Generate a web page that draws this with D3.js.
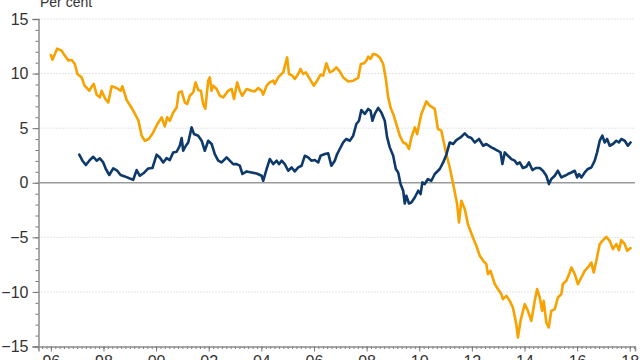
<!DOCTYPE html>
<html>
<head>
<meta charset="utf-8">
<script src="https://cdn.jsdelivr.net/npm/d3@7"></script>
<style>
  html, body { margin: 0; padding: 0; background: #fff; }
  svg { display: block; font-family: "Liberation Sans", Arial, sans-serif; }
</style>
</head>
<body>
<svg id="chart" width="640" height="360"></svg>
<script>
// ---------- DATA ----------
const yAxisLabel = "Per cent";
const yTicks = [-15, -10, -5, 0, 5, 10, 15];
const xTickYears = [1996, 1998, 2000, 2002, 2004, 2006, 2008, 2010, 2012, 2014, 2016, 2018];

const orangeYears = [1996.00,1996.06,1996.24,1996.41,1996.52,1996.66,1996.79,1996.91,1997.01,1997.17,
1997.27,1997.38,1997.46,1997.55,1997.63,1997.74,1997.86,1997.93,1998.05,1998.18,
1998.31,1998.50,1998.65,1998.72,1998.88,1999.07,1999.23,1999.33,1999.45,1999.57,
1999.72,1999.89,2000.05,2000.21,2000.33,2000.42,2000.52,2000.65,2000.78,2000.86,
2000.97,2001.09,2001.18,2001.28,2001.41,2001.50,2001.60,2001.70,2001.79,2001.87,
2001.98,2002.04,2002.11,2002.17,2002.30,2002.42,2002.55,2002.74,2002.87,2002.96,
2003.08,2003.18,2003.27,2003.44,2003.63,2003.75,2003.88,2004.01,2004.07,2004.20,
2004.32,2004.45,2004.51,2004.64,2004.74,2004.83,2004.98,2005.05,2005.18,2005.27,
2005.40,2005.49,2005.59,2005.69,2005.84,2005.99,2006.12,2006.25,2006.35,2006.47,
2006.60,2006.73,2006.85,2006.98,2007.11,2007.30,2007.49,2007.68,2007.78,2007.90,
2007.99,2008.06,2008.15,2008.25,2008.37,2008.50,2008.63,2008.73,2008.82,2008.91,
2009.01,2009.13,2009.26,2009.39,2009.51,2009.61,2009.70,2009.83,2009.92,2010.08,
2010.27,2010.40,2010.59,2010.71,2010.84,2011.03,2011.16,2011.29,2011.44,2011.51,
2011.60,2011.73,2011.85,2012.04,2012.17,2012.30,2012.43,2012.55,2012.61,2012.71,
2012.87,2012.99,2013.12,2013.18,2013.31,2013.44,2013.56,2013.69,2013.75,2013.85,
2014.01,2014.13,2014.26,2014.39,2014.48,2014.58,2014.67,2014.73,2014.83,2014.92,
2015.02,2015.15,2015.27,2015.40,2015.46,2015.59,2015.72,2015.78,2015.91,2016.03,
2016.16,2016.29,2016.41,2016.54,2016.63,2016.73,2016.86,2016.96,2017.11,2017.24,
2017.36,2017.49,2017.59,2017.68,2017.81,2017.90,2018.03];

const orangeValues = [11.70,11.27,12.28,12.10,11.67,11.21,11.25,10.88,9.96,9.65,
8.95,8.64,8.43,8.80,9.05,8.07,7.82,8.43,7.76,7.36,
8.83,8.68,8.43,8.83,7.58,6.85,6.14,5.68,4.31,3.85,
4.01,4.61,5.38,5.99,5.16,5.99,5.68,6.44,6.90,8.28,
8.37,7.36,7.21,7.97,8.28,9.19,8.50,8.43,7.21,6.78,
9.35,9.65,8.43,8.89,8.59,7.97,7.82,8.43,8.59,7.67,
9.19,8.43,7.97,8.59,8.43,8.37,8.68,8.43,8.07,8.89,
9.19,9.35,9.05,9.65,9.90,10.11,11.48,9.96,9.81,9.51,
9.96,10.42,9.96,10.11,9.51,8.89,9.35,9.90,9.81,10.94,
10.11,10.27,10.57,10.20,9.65,9.28,9.35,9.60,10.88,10.94,
11.18,11.55,11.34,11.80,11.73,11.48,10.88,9.51,7.82,6.90,
6.30,5.38,4.31,3.69,3.55,3.09,4.12,5.07,4.46,6.30,
7.45,7.06,6.76,4.92,4.77,2.63,1.40,-0.12,-1.95,-3.64,
-1.65,-2.41,-3.79,-5.01,-5.77,-6.69,-7.15,-7.45,-8.37,-8.07,
-9.28,-9.74,-10.20,-10.66,-10.36,-10.82,-11.43,-12.95,-14.18,-12.65,
-11.12,-11.73,-12.65,-10.82,-9.74,-10.51,-11.73,-10.82,-12.80,-13.26,
-11.73,-11.58,-10.51,-10.20,-9.28,-8.98,-8.22,-7.76,-8.37,-9.28,
-8.68,-8.07,-7.76,-7.31,-8.22,-7.15,-5.62,-5.32,-4.95,-5.32,
-6.08,-5.62,-6.17,-5.25,-5.62,-6.23,-5.99];

const blueYears = [1997.08,1997.20,1997.33,1997.46,1997.61,1997.74,1997.86,1997.99,1998.09,1998.22,
1998.37,1998.52,1998.65,1998.81,1999.00,1999.13,1999.26,1999.38,1999.53,1999.70,
1999.86,2000.02,2000.14,2000.27,2000.40,2000.52,2000.65,2000.78,2000.90,2000.97,
2001.03,2001.13,2001.22,2001.35,2001.44,2001.60,2001.73,2001.85,2001.98,2002.11,
2002.23,2002.36,2002.49,2002.68,2002.80,2002.93,2003.06,2003.18,2003.28,2003.44,
2003.63,2003.82,2004.01,2004.07,2004.20,2004.32,2004.45,2004.58,2004.67,2004.77,
2004.89,2005.02,2005.15,2005.27,2005.40,2005.53,2005.65,2005.78,2005.90,2006.03,
2006.16,2006.25,2006.41,2006.54,2006.66,2006.79,2006.88,2006.98,2007.11,2007.23,
2007.36,2007.49,2007.61,2007.71,2007.80,2007.93,2008.06,2008.15,2008.22,2008.31,
2008.44,2008.56,2008.69,2008.78,2008.88,2009.01,2009.11,2009.20,2009.29,2009.39,
2009.45,2009.51,2009.61,2009.70,2009.83,2009.96,2010.05,2010.12,2010.21,2010.33,
2010.46,2010.59,2010.78,2010.91,2011.03,2011.16,2011.29,2011.41,2011.57,2011.73,
2011.85,2011.98,2012.11,2012.27,2012.43,2012.55,2012.74,2012.87,2012.99,2013.09,
2013.16,2013.25,2013.37,2013.50,2013.63,2013.72,2013.82,2013.94,2014.07,2014.17,
2014.30,2014.43,2014.58,2014.70,2014.83,2014.93,2015.02,2015.15,2015.27,2015.40,
2015.53,2015.65,2015.78,2015.91,2016.00,2016.07,2016.16,2016.29,2016.41,2016.54,
2016.67,2016.76,2016.86,2016.96,2017.05,2017.14,2017.24,2017.36,2017.49,2017.59,
2017.68,2017.81,2017.93,2018.03];

const blueValues = [2.57,2.02,1.62,2.02,2.38,2.02,2.23,1.86,1.26,0.71,
1.31,1.10,0.71,0.58,0.39,0.27,1.16,0.64,0.89,1.31,
1.35,2.57,2.32,1.86,2.26,2.08,2.78,2.84,3.39,4.10,
2.93,3.39,3.69,5.07,4.46,4.31,3.85,2.93,3.85,3.55,
2.63,2.02,1.86,2.32,2.02,1.71,1.71,1.56,0.80,1.04,
0.94,0.85,0.64,0.18,1.26,2.17,1.71,2.02,1.71,2.02,
1.71,1.10,1.40,1.04,1.40,1.56,2.47,2.32,2.02,2.08,
1.86,2.47,2.63,2.69,1.56,2.02,2.63,3.09,3.69,4.01,
3.85,4.31,5.38,5.68,6.66,6.30,6.76,6.60,5.68,6.30,
6.85,6.44,5.68,4.15,3.24,2.47,1.26,0.94,-0.12,-0.73,
-1.90,-1.19,-1.90,-1.81,-1.35,-0.73,-1.04,0.03,-0.12,0.34,
0.18,0.80,1.26,1.86,2.57,3.69,3.55,3.91,4.15,4.52,
4.22,4.10,3.69,4.01,3.39,3.55,3.24,3.09,2.93,2.78,
1.71,2.78,2.47,2.17,2.02,1.71,1.86,1.35,1.47,1.86,
1.16,1.35,1.35,1.10,0.64,-0.12,0.34,0.64,1.10,0.49,
0.64,0.80,0.94,1.10,0.49,0.80,0.49,0.94,1.26,1.40,
2.02,2.78,3.85,4.31,3.69,4.01,3.39,3.55,3.85,3.69,
4.01,3.85,3.39,3.69];

// ---------- LAYOUT ----------
const svg = d3.select("#chart");
const plotLeft = 38.5, plotRight = 635, plotTop = 19, plotBottom = 346.5;

const x = d3.scaleLinear().domain([1995.53, 2018.2]).range([plotLeft, plotRight]);
const y = d3.scaleLinear().domain([-15, 15]).range([plotBottom, plotTop]);

const zip = (xs, vs) => xs.slice(0, Math.min(xs.length, vs.length)).map((d, i) => ({ t: d, v: vs[i] }));
const orange = zip(orangeYears, orangeValues);
const blue = zip(blueYears, blueValues);

// gridlines (dotted) except zero
svg.append("g").selectAll("line")
  .data(yTicks.filter(d => d !== 0 && d !== -15))
  .join("line")
  .attr("x1", plotLeft).attr("x2", plotRight)
  .attr("y1", d => y(d)).attr("y2", d => y(d))
  .attr("stroke", "#c8c8c8").attr("stroke-width", 1)
  .attr("stroke-dasharray", "1,2");

// zero line
svg.append("line")
  .attr("x1", plotLeft).attr("x2", plotRight)
  .attr("y1", y(0)).attr("y2", y(0))
  .attr("stroke", "#9a9a9a").attr("stroke-width", 1.5);

// minor y ticks
svg.append("g")
  .attr("transform", `translate(${plotLeft},0)`)
  .call(d3.axisLeft(y).tickValues(d3.range(-15, 16, 1)).tickSize(3).tickFormat(""))
  .call(g => g.select(".domain").remove())
  .call(g => g.selectAll("line").attr("stroke", "#777"));

// major y axis
svg.append("g")
  .attr("transform", `translate(${plotLeft},0)`)
  .call(d3.axisLeft(y).tickValues(yTicks).tickSize(6).tickPadding(4))
  .call(g => g.select(".domain").attr("stroke", "#8c8c8c").attr("stroke-width", 1.5))
  .call(g => g.selectAll("line").attr("stroke", "#777"))
  .call(g => g.selectAll("text").attr("fill", "#333").attr("font-size", 16)
    .attr("font-family", "Liberation Sans, Arial, sans-serif"));

// minor x ticks
const minorX = d3.range(0, 23 * 6 + 1).map(i => 1995.5 + i / 6).filter(d => d <= 2018.2);
svg.append("g")
  .attr("transform", `translate(0,${plotBottom})`)
  .call(d3.axisBottom(x).tickValues(minorX).tickSize(2.5).tickFormat(""))
  .call(g => g.select(".domain").remove())
  .call(g => g.selectAll("line").attr("stroke", "#777"));

// major x axis
svg.append("g")
  .attr("transform", `translate(0,${plotBottom})`)
  .call(d3.axisBottom(x).tickValues(xTickYears).tickSize(5).tickPadding(4.5)
    .tickFormat(d => String(d).slice(2)))
  .call(g => g.select(".domain").attr("stroke", "#8c8c8c").attr("stroke-width", 1.5))
  .call(g => g.selectAll("line").attr("stroke", "#777"))
  .call(g => g.selectAll("text").attr("fill", "#333").attr("font-size", 16)
    .attr("font-family", "Liberation Sans, Arial, sans-serif"));

// y-axis unit label
svg.append("text")
  .attr("x", 40).attr("y", 6.5)
  .attr("font-size", 14).attr("fill", "#333")
  .text(yAxisLabel);

// lines
const line = d3.line().x(d => x(d.t)).y(d => y(d.v));
svg.append("path").datum(orange)
  .attr("d", line).attr("fill", "none")
  .attr("stroke", "#F7A200").attr("stroke-width", 2.6)
  .attr("stroke-linejoin", "round").attr("stroke-linecap", "round");
svg.append("path").datum(blue)
  .attr("d", line).attr("fill", "none")
  .attr("stroke", "#0D3A6B").attr("stroke-width", 2.6)
  .attr("stroke-linejoin", "round").attr("stroke-linecap", "round");
</script>
</body>
</html>
